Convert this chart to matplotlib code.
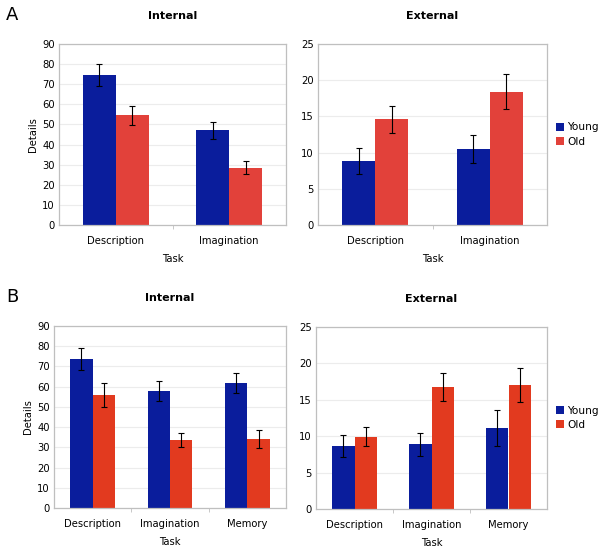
import numpy as np
import matplotlib.pyplot as plt

# data
tasks_a = ["Description", "Imagination"]
tasks_b = ["Description", "Imagination", "Memory"]

a_int_young = [74.5, 47.0]
a_int_young_err = [5.5, 4.0]
a_int_old = [54.5, 28.5]
a_int_old_err = [4.7, 3.1]

a_ext_young = [8.8, 10.5]
a_ext_young_err = [1.8, 1.9]
a_ext_old = [14.6, 18.4]
a_ext_old_err = [1.9, 2.4]

b_int_young = [73.5, 58.0, 62.0]
b_int_young_err = [5.5, 5.0, 5.0]
b_int_old = [56.0, 33.5, 34.0]
b_int_old_err = [6.0, 3.5, 4.5]

b_ext_young = [8.7, 8.9, 11.1]
b_ext_young_err = [1.5, 1.6, 2.5]
b_ext_old = [9.9, 16.8, 17.0]
b_ext_old_err = [1.3, 1.9, 2.3]

blue = "#0a1d9c"
red_a = "#e2413a"
red_b = "#e23a1f"
grey = "#bfbfbf"

fs = 7.2

fig = plt.figure(figsize=(6.02, 5.51), dpi=100)
W, H = 602, 551

def box(x0, x1, ytop, ybot):
    return [x0 / W, 1 - ybot / H, (x1 - x0) / W, (ybot - ytop) / H]

def panel(rect, tasks, young, yerr, old, oerr, red, ymax, step, title, ylabel, legend):
    ax = fig.add_axes(rect)
    x = np.arange(len(tasks))
    w = 0.29
    ax.bar(x - w / 2, young, w, color=blue, label="Young", zorder=2)
    ax.bar(x + w / 2, old, w, color=red, label="Old", zorder=2)
    ax.errorbar(x - w / 2, young, yerr=yerr, fmt="none", ecolor="black",
                elinewidth=0.8, capsize=2.5, capthick=0.8, zorder=3)
    ax.errorbar(x + w / 2, old, yerr=oerr, fmt="none", ecolor="black",
                elinewidth=0.8, capsize=2.5, capthick=0.8, zorder=3)
    ax.set_xlim(-0.5, len(tasks) - 0.5)
    ax.set_ylim(0, ymax)
    ax.set_yticks(np.arange(0, ymax + 1, step))
    ax.yaxis.grid(True, color="#ececec", linewidth=0.8, zorder=0)
    ax.set_axisbelow(True)
    ax.set_xticks(x)
    ax.set_xticklabels(tasks)
    ax.set_xticks(np.arange(0.5, len(tasks) - 0.5, 1), minor=True)
    ax.tick_params(axis="x", which="major", length=0, labelsize=fs, pad=8)
    ax.tick_params(axis="x", which="minor", length=3, color=grey)
    ax.tick_params(axis="y", length=0, labelsize=fs, pad=3)
    for s in ax.spines.values():
        s.set_color(grey)
        s.set_linewidth(0.9)
    ax.set_xlabel("Task", fontsize=fs, labelpad=6)
    if ylabel:
        ax.set_ylabel("Details", fontsize=fs, labelpad=3)
    ax.set_title(title, fontsize=8, fontweight="bold", pad=18)
    if legend:
        ax.legend(loc="center left", bbox_to_anchor=(1.02, 0.5), frameon=False,
                  fontsize=7.6, handlelength=0.8, handleheight=0.8,
                  handletextpad=0.3, labelspacing=0.4, borderaxespad=0)
    return ax

panel(box(59, 286, 44, 225), tasks_a, a_int_young, a_int_young_err,
      a_int_old, a_int_old_err, red_a, 90, 10, "Internal", True, False)
panel(box(318, 547, 44, 225), tasks_a, a_ext_young, a_ext_young_err,
      a_ext_old, a_ext_old_err, red_a, 25, 5, "External", False, True)
panel(box(54, 286, 326, 508), tasks_b, b_int_young, b_int_young_err,
      b_int_old, b_int_old_err, red_b, 90, 10, "Internal", True, False)
panel(box(316, 547, 327, 509), tasks_b, b_ext_young, b_ext_young_err,
      b_ext_old, b_ext_old_err, red_b, 25, 5, "External", False, True)

fig.text(6 / W, 1 - 15 / H, "A", fontsize=13, va="center", ha="left")
fig.text(6 / W, 1 - 297 / H, "B", fontsize=13, va="center", ha="left")

fig.savefig("out.png", dpi=100)
